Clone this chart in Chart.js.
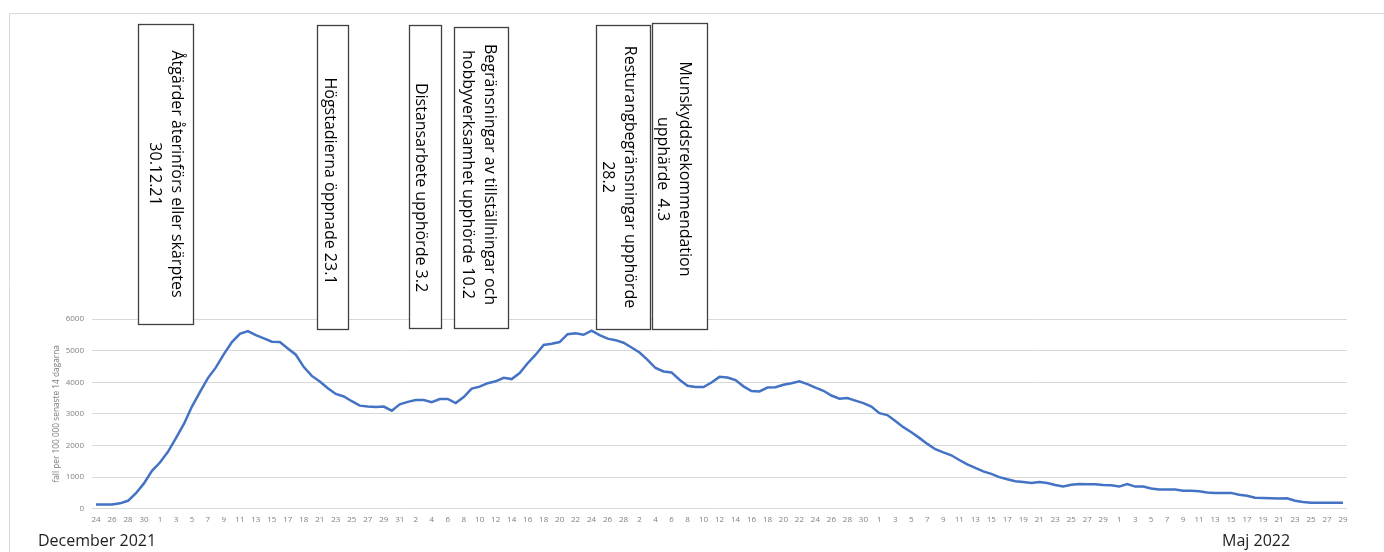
<!DOCTYPE html>
<html>
<head>
<meta charset="utf-8">
<script src="https://cdn.jsdelivr.net/npm/chart.js@4.4.1/dist/chart.umd.min.js"></script>
<style>
  html, body { margin: 0; padding: 0; background: #fff; }
  #wrap { position: relative; width: 1384px; height: 552px; }
</style>
</head>
<body>
<div id="wrap"><canvas id="grafik"></canvas></div>
<script>
// dagar per månad (etiketterna som de står i originalet, "18" två gånger i januari)
var decDagar = ['24','25','26','27','28','29','30','31'];
var janDagar = ['1','2','3','4','5','6','7','8','9','10','11','12','13','14','15','16','17','18','18','20','21','22','23','24','25','26','27','28','29','30','31'];
var febDagar = ['1','2','3','4','5','6','7','8','9','10','11','12','13','14','15','16','17','18','19','20','21','22','23','24','25','26','27','28'];
var marDagar = ['1','2','3','4','5','6','7','8','9','10','11','12','13','14','15','16','17','18','19','20','21','22','23','24','25','26','27','28','29','30','31'];
var aprDagar = ['1','2','3','4','5','6','7','8','9','10','11','12','13','14','15','16','17','18','19','20','21','22','23','24','25','26','27','28','29','30'];
var majDagar = ['1','2','3','4','5','6','7','8','9','10','11','12','13','14','15','16','17','18','19','20','21','22','23','24','25','26','27','28','29'];

// fall per 100 000 senaste 14 dagarna
var decFall = [130, 130, 130, 170, 250, 490, 800, 1200];
var janFall = [1460, 1800, 2230, 2680, 3230, 3690, 4130, 4470, 4890, 5270, 5530, 5620, 5490, 5390, 5280, 5270, 5070, 4870, 4480, 4200, 4020, 3810, 3630, 3550, 3400, 3260, 3230, 3220, 3230, 3100, 3300];
var febFall = [3380, 3440, 3440, 3370, 3470, 3470, 3340, 3530, 3800, 3860, 3970, 4030, 4140, 4100, 4290, 4600, 4870, 5180, 5220, 5270, 5520, 5550, 5500, 5630, 5490, 5380, 5330, 5250];
var marFall = [5100, 4940, 4710, 4450, 4340, 4310, 4080, 3890, 3850, 3850, 3990, 4170, 4150, 4070, 3870, 3720, 3710, 3830, 3840, 3920, 3970, 4030, 3940, 3830, 3730, 3580, 3480, 3500, 3420, 3340, 3230];
var aprFall = [3020, 2960, 2770, 2580, 2420, 2240, 2050, 1880, 1780, 1690, 1540, 1400, 1290, 1180, 1100, 1000, 930, 870, 845, 810, 845, 810, 750, 700, 760, 780, 770, 770, 750, 740];
var majFall = [700, 780, 700, 700, 640, 610, 610, 610, 570, 570, 550, 510, 500, 500, 500, 440, 410, 350, 340, 330, 320, 330, 250, 210, 190, 190, 190, 190, 190];

var yTicks = [0, 1000, 2000, 3000, 4000, 5000, 6000];
var yTitel = 'fall per 100 000 senaste 14 dagarna';
var manader = ['December 2021', 'Maj 2022'];

var handelser = [
    ['Åtgärder återinförs eller skärptes', '30.12.21'],
    ['Högstadierna öppnade 23.1'],
    ['Distansarbete upphörde 3.2'],
    ['Begränsningar av tillställningar och', 'hobbyverksamhet upphörde 10.2'],
    ['Resturangbegränsningar upphörde', '28.2'],
    ['Munskyddsrekommendation', 'upphärde  4.3']
];

// textrutornas placering i bilden (px), dx/dy = textens förskjutning i rutan
var rutor = [
    { x: 138, y: 24, w: 55, h: 300, dx: 0, dy: 0 },
    { x: 317, y: 25, w: 31, h: 304, dx: -2.5, dy: 4 },
    { x: 409, y: 25, w: 32, h: 303, dx: -4, dy: 11 },
    { x: 454, y: 27, w: 54, h: 301, dx: -2, dy: -3 },
    { x: 596, y: 25, w: 54, h: 304, dx: -4, dy: 0 },
    { x: 652, y: 23, w: 55, h: 306, dx: -6, dy: -7 }
];

var labels = decDagar.concat(janDagar, febDagar, marDagar, aprDagar, majDagar);
var varden = decFall.concat(janFall, febFall, marFall, aprFall, majFall);

var ramOchText = {
    id: 'ramOchText',
    beforeDraw: function (chart) {
        var ctx = chart.ctx;
        ctx.save();
        ctx.fillStyle = '#fff';
        ctx.fillRect(0, 0, chart.width, chart.height);
        ctx.strokeStyle = '#d9d9d9';
        ctx.lineWidth = 1;
        ctx.beginPath();
        ctx.moveTo(9.5, chart.height);
        ctx.lineTo(9.5, 13.5);
        ctx.lineTo(chart.width, 13.5);
        ctx.stroke();
        ctx.restore();
    },
    afterDraw: function (chart) {
        var ctx = chart.ctx;
        ctx.save();

        // händelserutor
        for (var i = 0; i < rutor.length; i++) {
            var r = rutor[i];
            ctx.fillStyle = '#fff';
            ctx.fillRect(r.x, r.y, r.w, r.h);
            ctx.strokeStyle = '#404040';
            ctx.lineWidth = 1.3;
            ctx.strokeRect(r.x + 0.5, r.y + 0.5, r.w, r.h);

            var rader = handelser[i];
            var radH = 22;
            ctx.save();
            ctx.translate(r.x + r.w / 2 + r.dx, r.y + r.h / 2 + r.dy);
            ctx.rotate(Math.PI / 2);
            ctx.fillStyle = '#000';
            ctx.font = '16px "Open Sans"';
            ctx.textAlign = 'center';
            ctx.textBaseline = 'middle';
            var start = -(rader.length - 1) * radH / 2;
            for (var j = 0; j < rader.length; j++) {
                ctx.fillText(rader[j], 0, start + j * radH);
            }
            ctx.restore();
        }

        // månadsnamn under axeln
        ctx.fillStyle = '#1f1f1f';
        ctx.font = '16px "Open Sans"';
        ctx.textAlign = 'left';
        ctx.textBaseline = 'alphabetic';
        ctx.fillText(manader[0], 38, 546);
        ctx.fillText(manader[1], 1222, 546);
        ctx.restore();
    }
};

new Chart(document.getElementById('grafik'), {
    type: 'line',
    data: {
        labels: labels,
        datasets: [
            {
                data: varden,
                borderColor: '#4472C4',
                backgroundColor: 'transparent',
                borderWidth: 2.5,
                pointRadius: 0,
                tension: 0
            }
        ]
    },
    options: {
        responsive: true,
        maintainAspectRatio: false,
        animation: false,
        layout: {
            padding: { left: 12, top: 319, right: 37, bottom: 23.3 }
        },
        plugins: {
            legend: { display: false },
            tooltip: { enabled: false }
        },
        scales: {
            x: {
                offset: true,
                grid: { display: false, drawTicks: false },
                border: { display: false },
                afterFit: function (scale) { scale.height = 20; },
                ticks: {
                    autoSkip: false,
                    maxRotation: 0,
                    minRotation: 0,
                    padding: 6,
                    color: '#808080',
                    font: { family: 'Open Sans', size: 8 },
                    callback: function (val, index) {
                        return index % 2 === 0 ? labels[index] : '';
                    }
                }
            },
            y: {
                min: yTicks[0],
                max: yTicks[yTicks.length - 1],
                afterFit: function (scale) { scale.width = 80; },
                afterBuildTicks: function (scale) {
                    scale.ticks = yTicks.map(function (v) { return { value: v }; });
                },
                grid: { color: '#d9d9d9', lineWidth: 1, drawTicks: false },
                border: { display: false },
                title: {
                    display: true,
                    text: yTitel,
                    color: '#7a7a7a',
                    font: { family: 'Open Sans', size: 8.3 },
                    padding: { top: 40, bottom: 0 }
                },
                ticks: {
                    padding: 8,
                    color: '#808080',
                    font: { family: 'Open Sans', size: 8 },
                    callback: function (val) { return String(val); }
                }
            }
        }
    },
    plugins: [ramOchText]
});
</script>
</body>
</html>
